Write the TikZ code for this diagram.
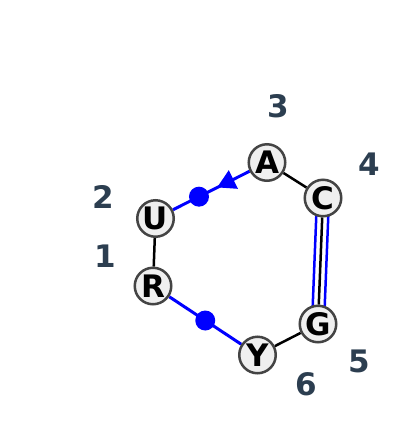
\documentclass[tikz,border=0pt]{standalone}
\usepackage{fontspec}
\setmainfont{DejaVu Sans}
\usetikzlibrary{calc,backgrounds,shapes.geometric}
\definecolor{numcol}{RGB}{44,62,80}
\definecolor{ringcol}{RGB}{68,68,68}
\definecolor{fillcol}{RGB}{239,239,239}
\begin{document}
\begin{tikzpicture}[x=1pt,y=-1pt,
    base/.style={circle,draw=ringcol,fill=fillcol,line width=2.5pt,minimum size=36.5pt,inner sep=0pt,font=\fontsize{31}{31}\selectfont\bfseries},
    num/.style={text=numcol,font=\fontsize{31}{31}\selectfont\bfseries},
    bond/.style={line width=2.5pt,black},
    link/.style={line width=3pt,blue},
    dot/.style={circle,fill=blue,inner sep=0pt,minimum size=20pt}]
  \useasboundingbox (0,0) rectangle (400,440);
  \node[base] (A) at (267,162.5) {A};
  \node[base] (C) at (323,198) {C};
  \node[base] (G) at (318,324) {G};
  \node[base] (Y) at (257.5,355) {Y};
  \node[base] (R) at (153,286) {R};
  \node[base] (U) at (155.5,218.5) {U};
  \node[num] (n1) at (105,256) {1};
  \node[num] (n2) at (103.5,197) {2};
  \node[num] (n3) at (278,106) {3};
  \node[num] (n4) at (369,164) {4};
  \node[num] (n5) at (359.5,361.5) {5};
  \node[num] (n6) at (306,384.5) {6};
  \begin{scope}[on background layer]
    \draw[bond] (A) -- (C);
    \draw[bond] (G) -- (Y);
    \draw[bond] (R) -- (U);
    \draw[link] (U) -- (A);
    \draw[link] (R) -- (Y);
    \draw[bond] (C) -- (G);
    \draw[blue,line width=2.5pt] ($(C)!6pt!90:(G)$) -- ($(G)!6pt!-90:(C)$);
    \draw[blue,line width=2.5pt] ($(C)!6pt!-90:(G)$) -- ($(G)!6pt!90:(C)$);
  \end{scope}
  \node[dot] (d1) at ($(U)!0.39!(A)$) {};
  \node[dot] (d2) at ($(R)!0.5!(Y)$) {};
  \node[regular polygon,regular polygon sides=3,fill=blue,inner sep=0pt,minimum size=24pt,rotate=-4] (tip) at ($(U)!0.65!(A)$) {};
\end{tikzpicture}
\end{document}
